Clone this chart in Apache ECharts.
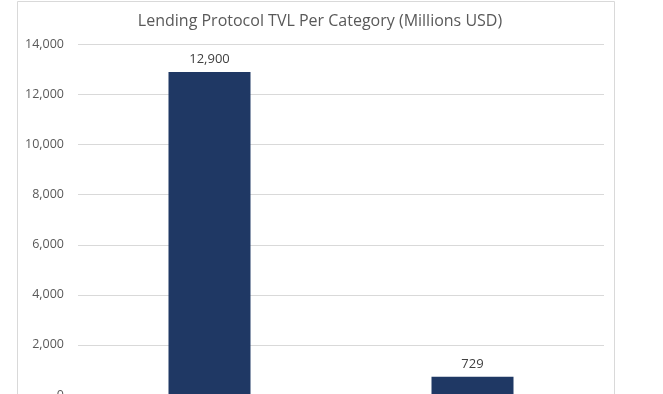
<!DOCTYPE html>
<html>
<head>
<meta charset="utf-8">
<script src="https://cdn.jsdelivr.net/npm/echarts@6/dist/echarts.min.js"></script>
<style>
html,body{margin:0;padding:0;overflow:hidden;background:#fff;width:663px;height:394px;}
#chart{width:663px;height:460px;}
</style>
</head>
<body>
<div id="chart"></div>
<script>
var titleText = 'Lending Protocol TVL Per Category (Millions USD)';
var categories = ['Category 1', 'Category 2'];
var tvlValues = [12900, 729];
var yTicks = [0, 2000, 4000, 6000, 8000, 10000, 12000, 14000];

var chart = echarts.init(document.getElementById('chart'), null, {renderer: 'canvas'});
var FONT = 'Open Sans';
chart.setOption({
  animation: false,
  backgroundColor: '#ffffff',
  title: {
    text: titleText,
    left: 315,
    textAlign: 'center',
    top: 8,
    textStyle: {fontFamily: FONT, fontSize: 16, fontWeight: 'normal', color: '#595959'}
  },
  graphic: [{
    type: 'rect',
    shape: {x: 17.5, y: 1.5, width: 597, height: 600},
    style: {fill: 'none', stroke: '#d9d9d9', lineWidth: 1},
    silent: true
  }],
  grid: {left: 78, right: 59, top: 44.5, bottom: 65, containLabel: false},
  xAxis: {
    type: 'category',
    data: categories,
    axisLine: {show: true, lineStyle: {color: '#d9d9d9'}},
    axisTick: {show: false},
    axisLabel: {show: false}
  },
  yAxis: {
    type: 'value',
    min: yTicks[0],
    max: yTicks[yTicks.length - 1],
    interval: 2000,
    axisLine: {show: false},
    axisTick: {show: false},
    splitLine: {lineStyle: {color: '#d9d9d9', width: 1}},
    axisLabel: {
      margin: 14,
      fontFamily: FONT, fontSize: 12.5, color: '#595959',
      formatter: function (v) { return v.toLocaleString('en-US'); }
    }
  },
  series: [{
    type: 'bar',
    data: tvlValues,
    barWidth: 82,
    itemStyle: {color: '#1f3864'},
    label: {
      show: true, position: 'top', distance: 6,
      fontFamily: FONT, fontSize: 13, color: '#404040',
      formatter: function (p) { return p.value.toLocaleString('en-US'); }
    }
  }]
});
</script>
</body>
</html>
